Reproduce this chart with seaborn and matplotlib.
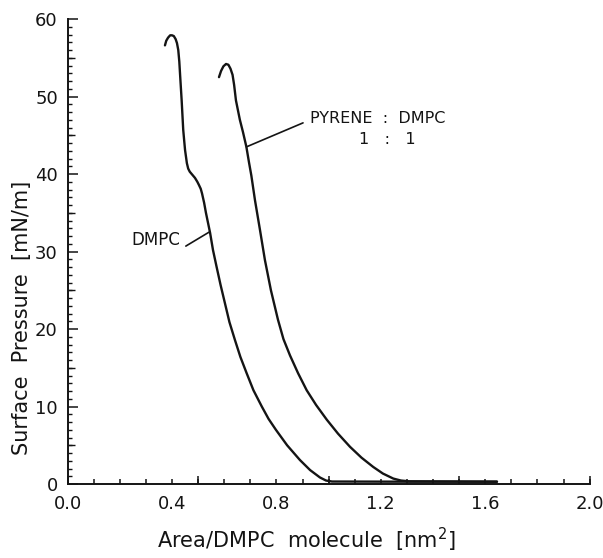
import matplotlib
matplotlib.use("Agg")
import matplotlib.pyplot as plt
from matplotlib.ticker import FixedLocator, MultipleLocator
import pandas as pd
import seaborn as sns

# Surface pressure isotherms (area per DMPC molecule in nm^2, pressure in mN/m)
dmpc_area = [0.373, 0.378, 0.385, 0.393, 0.400, 0.407, 0.414, 0.419, 0.424, 0.428,
             0.431, 0.437, 0.443, 0.447, 0.450, 0.457, 0.462, 0.468, 0.478, 0.488,
             0.497, 0.503, 0.510, 0.515, 0.523, 0.530, 0.538, 0.546, 0.557, 0.571,
             0.586, 0.603, 0.620, 0.641, 0.662, 0.686, 0.712, 0.744, 0.770, 0.798,
             0.841, 0.890, 0.929, 0.967, 0.990, 1.013, 1.300, 1.645]
dmpc_pressure = [56.6, 57.2, 57.6, 57.9, 57.9, 57.8, 57.4, 56.9, 56.0, 54.5,
                 52.8, 49.5, 45.7, 44.2, 43.1, 41.4, 40.7, 40.3, 39.9, 39.5,
                 39.0, 38.6, 38.1, 37.5, 36.3, 35.0, 33.7, 32.4, 30.2, 28.0,
                 25.7, 23.3, 20.9, 18.6, 16.4, 14.3, 12.1, 10.0, 8.4, 7.0,
                 5.0, 3.1, 1.8, 0.84, 0.45, 0.32, 0.3, 0.3]

pyrene_area = [0.580, 0.588, 0.597, 0.607, 0.616, 0.624, 0.632, 0.638, 0.645, 0.660,
               0.672, 0.685, 0.695, 0.704, 0.718, 0.737, 0.756, 0.779, 0.806, 0.827,
               0.852, 0.883, 0.916, 0.952, 0.993, 1.036, 1.082, 1.126, 1.171, 1.208,
               1.248, 1.277, 1.308, 1.645]
pyrene_pressure = [52.5, 53.3, 53.9, 54.2, 54.1, 53.6, 52.8, 51.5, 49.5, 47.0,
                   45.4, 43.5, 41.5, 39.8, 36.6, 32.8, 28.9, 25.0, 21.2, 18.7,
                   16.6, 14.3, 12.1, 10.2, 8.3, 6.5, 4.8, 3.4, 2.2, 1.35,
                   0.7, 0.45, 0.35, 0.3]

x_ticks = [0.0, 0.4, 0.8, 1.2, 1.6, 2.0]
x_tick_labels = ["0.0", "0.4", "0.8", "1.2", "1.6", "2.0"]
x_mid_ticks = [0.0, 0.5, 1.0, 1.5, 2.0]
y_ticks = [0, 10, 20, 30, 40, 50, 60]
y_mid_ticks = [5, 15, 25, 35, 45, 55]

df = pd.concat([
    pd.DataFrame({"area": dmpc_area, "pressure": dmpc_pressure, "film": "DMPC"}),
    pd.DataFrame({"area": pyrene_area, "pressure": pyrene_pressure, "film": "PYRENE : DMPC"}),
], ignore_index=True)

sns.set_style("white")
plt.rcParams["font.family"] = ["DejaVu Sans"]

ink = "#141414"
fig = plt.figure(figsize=(6.03, 5.58), dpi=100)
ax = fig.add_axes([0.1121, 0.1326, 0.8657, 0.8333])

sns.lineplot(data=df, x="area", y="pressure", units="film", estimator=None,
             sort=False, color=ink, linewidth=1.7, ax=ax, legend=False)

ax.set_xlim(0, 2.0)
ax.set_ylim(0, 60)

for side in ("top", "right"):
    ax.spines[side].set_visible(False)
for side in ("left", "bottom"):
    ax.spines[side].set_linewidth(1.4)
    ax.spines[side].set_color(ink)

# x axis: labelled ticks every 0.4, fine ticks every 0.1, longer ticks every 0.5
ax.xaxis.set_major_locator(FixedLocator(x_ticks))
ax.set_xticklabels(x_tick_labels)
ax.xaxis.set_minor_locator(MultipleLocator(0.1))
ax.tick_params(axis="x", which="both", bottom=True, direction="in", length=3.6,
               width=1.1, color=ink, pad=8, labelsize=13, labelcolor=ink)
secx = ax.secondary_xaxis("bottom")
secx.set_xticks(x_mid_ticks)
secx.tick_params(direction="in", length=6.0, width=1.1, color=ink, labelbottom=False)
secx.spines["bottom"].set_visible(False)

# y axis: labelled ticks every 10, medium ticks every 5, fine ticks every 1
ax.yaxis.set_major_locator(FixedLocator(y_ticks))
ax.yaxis.set_minor_locator(MultipleLocator(1))
ax.tick_params(axis="y", which="major", left=True, direction="in", length=7.2,
               width=1.1, color=ink, pad=7, labelsize=13, labelcolor=ink)
ax.tick_params(axis="y", which="minor", left=True, direction="in", length=2.9,
               width=1.0, color=ink)
secy = ax.secondary_yaxis("left")
secy.set_yticks(y_mid_ticks)
secy.tick_params(direction="in", length=5.0, width=1.0, color=ink, labelleft=False)
secy.spines["left"].set_visible(False)

ax.set_xlabel("Area/DMPC  molecule  [nm$^{2}$]", fontsize=15, color=ink)
ax.xaxis.set_label_coords(0.457, -0.12)
ax.xaxis.label.set_va("center")
ax.set_ylabel("Surface  Pressure  [mN/m]", fontsize=15, color=ink)
ax.yaxis.set_label_coords(-0.087, 0.357)
ax.yaxis.label.set_va("center")

# Curve annotations with leader lines
ax.plot([0.453, 0.542], [30.7, 32.5], color=ink, linewidth=1.2)
ax.text(0.431, 31.5, "DMPC", fontsize=12, ha="right", va="center", color=ink)
ax.plot([0.685, 0.902], [43.5, 46.6], color=ink, linewidth=1.2)
ax.text(0.929, 47.2, "PYRENE  :  DMPC", fontsize=11.5, ha="left", va="center", color=ink)
ax.text(1.224, 44.4, "1   :   1", fontsize=11.5, ha="center", va="center", color=ink)

fig.savefig("out.png", dpi=100)
